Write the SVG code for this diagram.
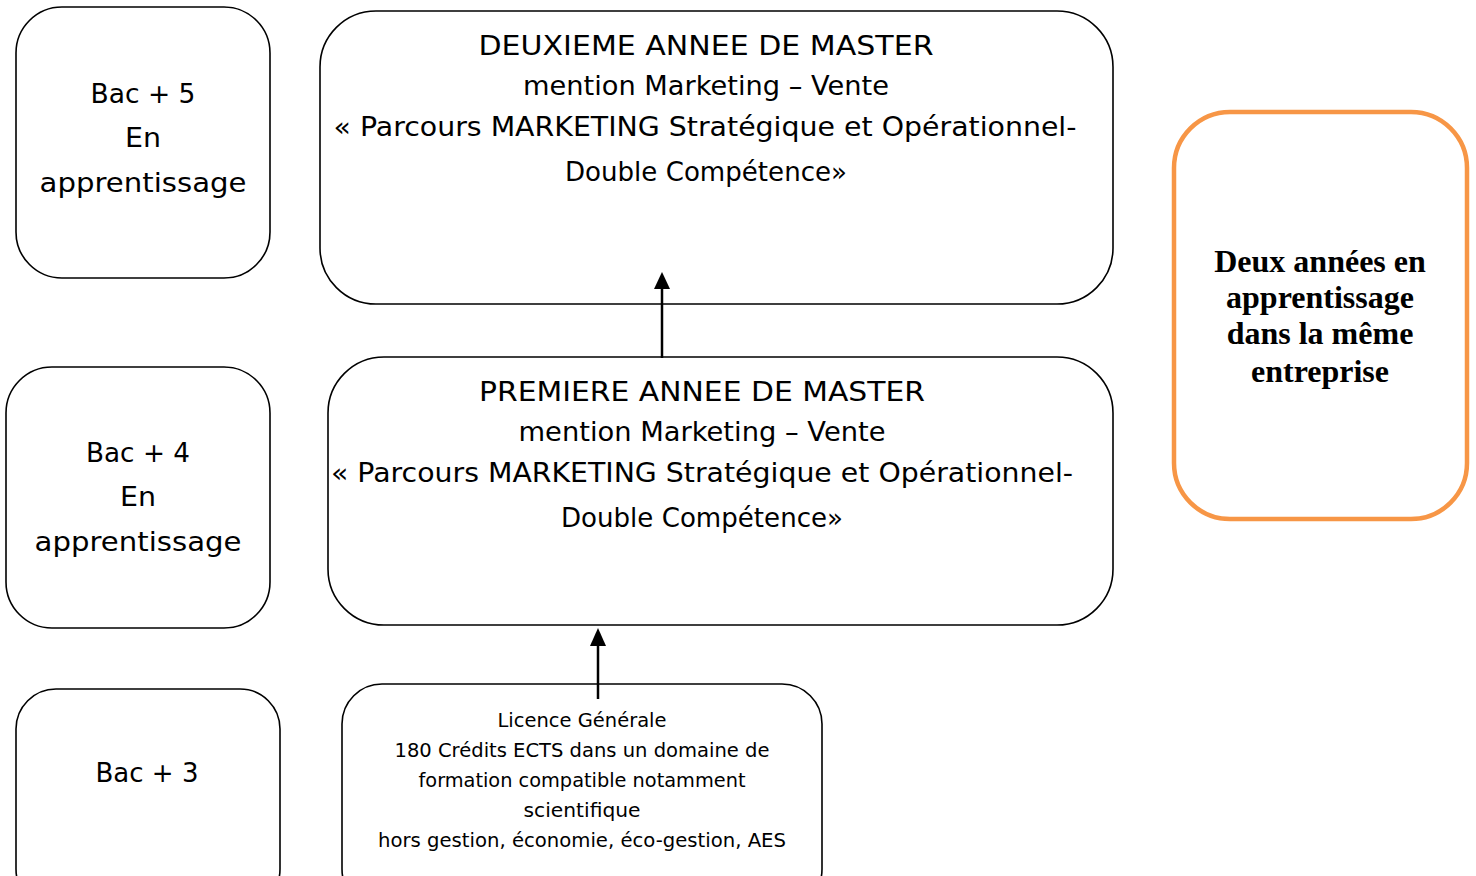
<svg xmlns="http://www.w3.org/2000/svg" width="1476" height="876" viewBox="0 0 1476 876">
<style>
.box{fill:#fff;stroke:#000;stroke-width:1.6}
.org{fill:#fff;stroke:#f79646;stroke-width:4.5}
.t{font-family:"DejaVu Sans","Noto Sans",sans-serif;font-size:27px;fill:#000;text-anchor:middle}
.s{font-family:"DejaVu Sans","Noto Sans",sans-serif;font-size:19px;fill:#000;text-anchor:middle}
.b{font-family:"Liberation Serif","Times New Roman",serif;font-size:32px;font-weight:bold;fill:#000;text-anchor:middle}
.c{stroke:#000;stroke-width:2.5;fill:none}
</style>
<rect width="1476" height="876" fill="#fff"/>
<g id="bac5">
<rect class="box" x="16" y="7" width="254" height="271" rx="46"/>
<text class="t" x="143" y="103" textLength="105" lengthAdjust="spacingAndGlyphs">Bac + 5</text>
<text class="t" x="143" y="147" textLength="36" lengthAdjust="spacingAndGlyphs">En</text>
<text class="t" x="143" y="192" textLength="207" lengthAdjust="spacingAndGlyphs">apprentissage</text>
</g>
<g id="m2">
<rect class="box" x="320" y="11" width="793" height="293" rx="56"/>
<text class="t" x="706" y="55" textLength="455" lengthAdjust="spacingAndGlyphs">DEUXIEME ANNEE DE MASTER</text>
<text class="t" x="706" y="95" textLength="366" lengthAdjust="spacingAndGlyphs">mention Marketing – Vente</text>
<text class="t" x="705" y="136" textLength="743" lengthAdjust="spacingAndGlyphs">« Parcours MARKETING Stratégique et Opérationnel-</text>
<text class="t" x="706" y="181" textLength="282" lengthAdjust="spacingAndGlyphs">Double Compétence»</text>
</g>
<g id="bac4">
<rect class="box" x="6" y="367" width="264" height="261" rx="46"/>
<text class="t" x="138" y="462" textLength="104" lengthAdjust="spacingAndGlyphs">Bac + 4</text>
<text class="t" x="138" y="506" textLength="36" lengthAdjust="spacingAndGlyphs">En</text>
<text class="t" x="138" y="551" textLength="207" lengthAdjust="spacingAndGlyphs">apprentissage</text>
</g>
<g id="m1">
<rect class="box" x="328" y="357" width="785" height="268" rx="56"/>
<text class="t" x="702" y="401" textLength="446" lengthAdjust="spacingAndGlyphs">PREMIERE ANNEE DE MASTER</text>
<text class="t" x="702" y="441" textLength="367" lengthAdjust="spacingAndGlyphs">mention Marketing – Vente</text>
<text class="t" x="702" y="482" textLength="742" lengthAdjust="spacingAndGlyphs">« Parcours MARKETING Stratégique et Opérationnel-</text>
<text class="t" x="702" y="527" textLength="282" lengthAdjust="spacingAndGlyphs">Double Compétence»</text>
</g>
<g id="bac3">
<rect class="box" x="16" y="689" width="264" height="220" rx="40"/>
<text class="t" x="147" y="782" textLength="103" lengthAdjust="spacingAndGlyphs">Bac + 3</text>
</g>
<g id="licence">
<rect class="box" x="342" y="684" width="480" height="225" rx="40"/>
<text class="s" x="582" y="727" textLength="169" lengthAdjust="spacingAndGlyphs">Licence Générale</text>
<text class="s" x="582" y="757" textLength="375" lengthAdjust="spacingAndGlyphs">180 Crédits ECTS dans un domaine de</text>
<text class="s" x="582" y="787" textLength="327" lengthAdjust="spacingAndGlyphs">formation compatible notamment</text>
<text class="s" x="582" y="817" textLength="117" lengthAdjust="spacingAndGlyphs">scientifique</text>
<text class="s" x="582" y="847" textLength="408" lengthAdjust="spacingAndGlyphs">hors gestion, économie, éco-gestion, AES</text>
</g>
<g id="apprentissage">
<rect class="org" x="1174" y="112" width="293" height="407" rx="56"/>
<text class="b" x="1320" y="272">Deux années en</text>
<text class="b" x="1320" y="308">apprentissage</text>
<text class="b" x="1320" y="344">dans la même</text>
<text class="b" x="1320" y="382">entreprise</text>
</g>
<g id="connectors">
<line x1="598" y1="699" x2="598" y2="646" class="c"/>
<path d="M598,628 L606,646 L590,646 Z" fill="#000"/>
<line x1="662" y1="358" x2="662" y2="289" class="c"/>
<path d="M662,272 L670,289 L654,289 Z" fill="#000"/>
</g>
</svg>
